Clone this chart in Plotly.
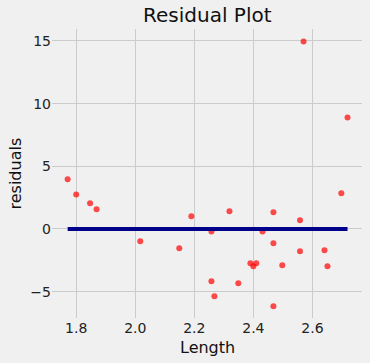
import plotly.graph_objects as go

length = [1.771, 1.800, 1.847, 1.869, 2.017, 2.149, 2.190, 2.258, 2.258, 2.268,
          2.319, 2.349, 2.390, 2.400, 2.410, 2.431, 2.468, 2.468, 2.468, 2.498,
          2.558, 2.558, 2.570, 2.641, 2.651, 2.698, 2.719]
residuals = [3.96, 2.76, 2.05, 1.57, -0.98, -1.54, 1.01, -0.21, -4.17, -5.36,
             1.41, -4.33, -2.73, -2.97, -2.73, -0.21, 1.33, -1.14, -6.16, -2.89,
             0.69, -1.78, 14.96, -1.70, -2.97, 2.84, 8.90]
zero_line_x = [min(length), max(length)]
zero_line_y = [0, 0]
x_ticks = [1.8, 2.0, 2.2, 2.4, 2.6]
y_ticks = [-5, 0, 5, 10, 15]

fig = go.Figure()
fig.add_trace(go.Scatter(
    x=length, y=residuals, mode="markers",
    marker=dict(color="red", opacity=0.7, size=6, line=dict(width=0)),
    showlegend=False))
fig.add_trace(go.Scatter(
    x=zero_line_x, y=zero_line_y, mode="lines",
    line=dict(color="#00008b", width=4), showlegend=False))

font = "DejaVu Sans, sans-serif"
W, H = 370, 363
L, R, T, B = 52, 8, 29, 45
fig.update_layout(
    width=W, height=H,
    paper_bgcolor="#f0f0f0", plot_bgcolor="#f0f0f0",
    margin=dict(l=L, r=R, t=T, b=B, autoexpand=False),
    font=dict(family=font, color="#222222", size=14),
    hovermode=False,
    xaxis=dict(range=[1.718, 2.768], tickvals=x_ticks,
               ticktext=[f"{v:.1f}" for v in x_ticks],
               showgrid=True, gridcolor="#cbcbcb", gridwidth=1,
               zeroline=False, showline=False, ticks="", automargin=False,
               tickfont=dict(size=14, color="#222222")),
    yaxis=dict(range=[-7.1, 15.95], tickvals=y_ticks,
               ticktext=["\u22125", "0", "5", "10", "15"],
               showgrid=True, gridcolor="#cbcbcb", gridwidth=1,
               zeroline=False, showline=False, ticks="", automargin=False,
               tickfont=dict(size=14, color="#222222")),
    annotations=[
        dict(text="Residual Plot", xref="paper", yref="paper",
             x=0.5, y=1 + (T - 15) / (H - T - B), xanchor="center", yanchor="middle",
             showarrow=False, font=dict(size=20, color="#111111")),
        dict(text="Length", xref="paper", yref="paper",
             x=0.5, y=-(347 - (H - B)) / (H - T - B), xanchor="center", yanchor="middle",
             showarrow=False, font=dict(size=16, color="#111111")),
        dict(text="residuals", xref="paper", yref="paper",
             x=-(L - 15) / (W - L - R), y=0.5, xanchor="center", yanchor="middle",
             textangle=-90, showarrow=False, font=dict(size=16, color="#111111")),
    ],
)
fig.write_html("out.html", config={"displayModeBar": False},
               post_script="document.body.style.margin='0';document.body.style.padding='0';document.body.style.background='#f0f0f0';")
